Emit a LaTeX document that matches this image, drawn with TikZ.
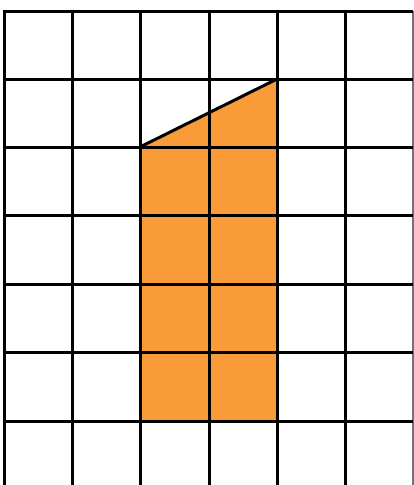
\documentclass[tikz,border=0pt]{standalone}
\definecolor{fillorange}{HTML}{F89B38}
\tikzset{gridline/.style={line width=3pt, black}}
\begin{document}
\begin{tikzpicture}[x=1pt,y=-1pt]
\useasboundingbox (0,0) rectangle (414,485);
\clip (0,0) rectangle (414,485);
\fill[white] (0,0) rectangle (414,485);
\coordinate (p1) at (140,147);
\coordinate (p2) at (277,79);
\coordinate (p3) at (277,421);
\coordinate (p4) at (140,421);
\fill[fillorange] (p1) -- (p2) -- (p3) -- (p4) -- cycle;
\foreach \x in {4,72,140,209,277,345}
  \draw[gridline] (\x,9.5) -- (\x,486);
\draw[line width=2.2pt, black!55] (413,11) -- (413,486);
\foreach \y in {11,79,147,215,284,352,421}
  \draw[gridline] (2.5,\y) -- (413,\y);
\draw[gridline, line cap=round] (p1) -- (p2);
\end{tikzpicture}
\end{document}
